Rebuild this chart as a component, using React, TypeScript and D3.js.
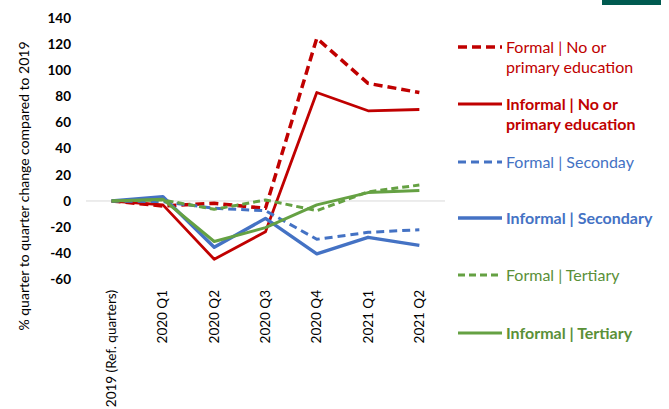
import React from "react";
import * as d3 from "d3";

const categories = ["2019 (Ref. quarters)", "2020 Q1", "2020 Q2", "2020 Q3", "2020 Q4", "2021 Q1", "2021 Q2"];
const yTicks = [140, 120, 100, 80, 60, 40, 20, 0, -20, -40, -60];

const formalNoPrimary = [0, -3.8, -1.8, -5.6, 124.5, 90, 83];
const informalNoPrimary = [0, -3, -44.6, -23.5, 83, 69, 70];
const formalSecondary = [0, -0.5, -5.6, -7.4, -29.3, -24, -22];
const informalSecondary = [0, 3.3, -35.4, -13.3, -40.5, -27.8, -34];
const formalTertiary = [0, 0.8, -6.4, 0.8, -7.4, 7, 12.2];
const informalTertiary = [0, 1.3, -31, -20.4, -3, 6.4, 8];

const seriesNames = [
  ["Formal | No or", "primary education"],
  ["Informal | No or", "primary education"],
  ["Formal | Seconday"],
  ["Informal | Secondary"],
  ["Formal | Tertiary"],
  ["Informal | Tertiary"],
];

const RED = "#C00000";
const BLUE = "#4472C4";
const GREEN = "#65A143";
const GREEN_TEXT = "#5A9038";

const series = [
  { values: formalNoPrimary, color: RED, text: RED, dash: "9,5", width: 3.5, bold: false, ly: 47 },
  { values: informalNoPrimary, color: RED, text: RED, dash: null, width: 2.8, bold: true, ly: 104 },
  { values: formalSecondary, color: BLUE, text: BLUE, dash: "8,5", width: 3, bold: false, ly: 162 },
  { values: informalSecondary, color: BLUE, text: BLUE, dash: null, width: 3.4, bold: true, ly: 218 },
  { values: formalTertiary, color: GREEN, text: GREEN_TEXT, dash: "7,4", width: 3, bold: false, ly: 275 },
  { values: informalTertiary, color: GREEN, text: GREEN_TEXT, dash: null, width: 3, bold: true, ly: 333 },
];

const FONT = "Lato, 'Open Sans', sans-serif";

export default function App() {
  const x = d3.scaleBand<string>().domain(categories).range([86, 445]);
  const y = d3.scaleLinear().domain([-60, 140]).range([279.4, 18]);
  const cx = (c: string) => (x(c) as number) + x.bandwidth() / 2;
  const line = d3
    .line<number>()
    .x((_, i) => cx(categories[i]))
    .y((v) => y(v));

  return (
    <svg width={669} height={409} style={{ position: "absolute", left: 0, top: 0, background: "#fff" }} fontFamily={FONT}>
      <rect x={602} y={0} width={59} height={5} fill="#005A50" />
      <text transform={`translate(29,186) rotate(-90)`} textAnchor="middle" fontSize={14} fill="#000">
        % quarter to quarter change compared to 2019
      </text>
      {yTicks.map((t) => (
        <text key={t} x={71} y={y(t)} dy="0.35em" textAnchor="end" fontSize={13.5} fontWeight="bold" fill="#000">
          {t}
        </text>
      ))}
      <line x1={86} x2={445} y1={y(0)} y2={y(0)} stroke="#D9D9D9" strokeWidth={1} />
      {categories.map((c) => (
        <text
          key={c}
          transform={`translate(${cx(c) + 4.5},290) rotate(-90)`}
          textAnchor="end"
          fontSize={13.5}
          fill="#000"
        >
          {c}
        </text>
      ))}
      {series.map((s, i) => (
        <path
          key={i}
          d={line(s.values) as string}
          fill="none"
          stroke={s.color}
          strokeWidth={s.width}
          strokeDasharray={s.dash ?? undefined}
          strokeLinejoin="round"
        />
      ))}
      {series.map((s, i) => (
        <g key={"l" + i}>
          <line
            x1={458}
            x2={502}
            y1={s.ly}
            y2={s.ly}
            stroke={s.color}
            strokeWidth={s.width}
            strokeDasharray={s.dash ?? undefined}
          />
          {seriesNames[i].map((t, j) => (
            <text
              key={j}
              x={506}
              y={s.ly + j * 20.5}
              dy="0.35em"
              fontSize={16}
              fontWeight={s.bold ? "bold" : "normal"}
              fill={s.text}
            >
              {t}
            </text>
          ))}
        </g>
      ))}
    </svg>
  );
}
